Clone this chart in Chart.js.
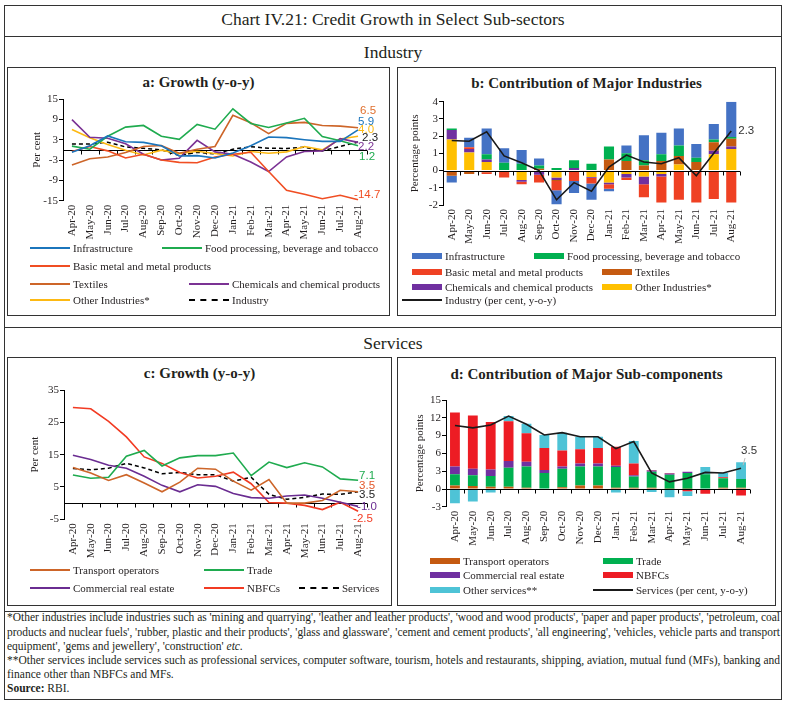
<!DOCTYPE html>
<html>
<head>
<meta charset="utf-8">
<script src="https://cdn.jsdelivr.net/npm/chart.js@4.4.0/dist/chart.umd.min.js"></script>
<style>
body { margin: 0; background: #fff; width: 786px; height: 702px; position: relative; overflow: hidden;
       font-family: "Liberation Serif", serif; color: #231f20; }
.line { position: absolute; background: #333; }
.box { position: absolute; border: 1px solid #333; box-sizing: border-box; }
.ptitle { position: absolute; text-align: center; font-weight: bold; font-size: 15px; white-space: nowrap; }
.head { position: absolute; left: 0; width: 786px; text-align: center; font-size: 17.5px; }
canvas { position: absolute; }
.lg { position: absolute; font-size: 11px; white-space: nowrap; display: flex; align-items: center; height: 14px; }
.lg span.sw { display: inline-block; margin-right: 3px; }
.fn { position: absolute; left: 7px; font-family: "Liberation Serif", serif;
      font-size: 11.5px; white-space: nowrap; line-height: 14px; transform-origin: 0 0; }
</style>
</head>
<body>

<div class="box" style="left:4px;top:5px;width:778px;height:695px;"></div>
<div class="line" style="left:4px;top:36px;width:778px;height:1px;"></div>
<div class="line" style="left:4px;top:327px;width:778px;height:1px;"></div>
<div class="line" style="left:4px;top:611px;width:778px;height:1px;"></div>

<div class="head" style="top:9px;">Chart IV.21: Credit Growth in Select Sub-sectors</div>
<div class="head" style="top:42px;">Industry</div>
<div class="head" style="top:333px;">Services</div>

<div class="box" style="left:7px;top:67px;width:383px;height:249px;"></div>
<div class="box" style="left:397px;top:67px;width:379px;height:249px;"></div>
<div class="box" style="left:7px;top:357px;width:385px;height:249px;"></div>
<div class="box" style="left:397px;top:357px;width:379px;height:249px;"></div>

<div class="ptitle" style="left:7px;width:383px;top:74px;">a: Growth (y-o-y)</div>
<div class="ptitle" style="left:397px;width:379px;top:75px;">b: Contribution of Major Industries</div>
<div class="ptitle" style="left:7px;width:385px;top:365px;">c: Growth (y-o-y)</div>
<div class="ptitle" style="left:397px;width:379px;top:366px;">d: Contribution of Major Sub-components</div>

<canvas id="chartA" width="384" height="160" style="left:8px;top:88px;"></canvas>
<canvas id="chartB" width="378" height="165" style="left:398px;top:88px;"></canvas>
<canvas id="chartC" width="384" height="190" style="left:8px;top:380px;"></canvas>
<canvas id="chartD" width="378" height="175" style="left:398px;top:385px;"></canvas>

<div class="fn" data-full="1" style="top:610px;">*Other industries include industries such as 'mining and quarrying', 'leather and leather products', 'wood and wood products', 'paper and paper products', 'petroleum, coal</div>
<div class="fn" data-full="1" style="top:625px;">products and nuclear fuels', 'rubber, plastic and their products', 'glass and glassware', 'cement and cement products', 'all engineering', 'vehicles, vehicle parts and transport</div>
<div class="fn" style="top:639px;">equipment', 'gems and jewellery', 'construction' <i>etc.</i></div>
<div class="fn" data-full="1" style="top:653px;">**Other services include services such as professional services, computer software, tourism, hotels and restaurants, shipping, aviation, mutual fund (MFs), banking and</div>
<div class="fn" style="top:667px;">finance other than NBFCs and MFs.</div>
<div class="fn" style="top:681px;"><b>Source:</b> RBI.</div>

<script>
var months = ['Apr-20', 'May-20', 'Jun-20', 'Jul-20', 'Aug-20', 'Sep-20', 'Oct-20', 'Nov-20', 'Dec-20',
              'Jan-21', 'Feb-21', 'Mar-21', 'Apr-21', 'May-21', 'Jun-21', 'Jul-21', 'Aug-21'];

// a: industry growth, y-o-y per cent
var infraGrowth    = [-0.7, 1.2, 4.1, 2.4, 2.2, 1.2, -1.8, -1.7, -2.4, -0.9, 1.2, 3.8, 3.6, 3.0, 2.5, 2.5, 5.9];
var foodGrowth     = [1.1, 0.2, 4.0, 6.7, 7.2, 4.0, 3.1, 7.5, 6.1, 12.1, 7.8, 6.6, 7.9, 9.3, 3.9, 2.7, 1.2];
var metalGrowth    = [-0.5, 1.0, -0.3, -2.4, -1.3, -3.0, -3.7, -3.8, -2.1, -1.3, -0.7, -6.4, -11.9, -13.1, -14.4, -13.4, -14.7];
var textileGrowth  = [-4.5, -2.6, -2.1, -0.8, 1.0, 1.3, -1.0, 0.2, 1.0, 10.2, 8.0, 4.8, 7.8, 8.1, 7.2, 7.0, 6.5];
var chemGrowth     = [8.9, 3.7, 3.4, 1.8, -1.3, -3.0, -2.5, 2.8, -0.6, -1.3, -3.6, -6.4, -2.1, -0.5, -0.3, 3.3, 2.2];
var otherIndGrowth = [6.0, 3.6, 1.6, -0.1, -1.5, -0.1, -1.1, -0.4, -1.1, -1.8, -0.5, -1.0, -0.6, 1.0, 0.0, 3.2, 4.0];
var industryGrowth = [1.75, 1.7, 2.25, 0.85, 0.45, 0.0, -1.7, -0.7, -1.2, 0.2, 0.9, 0.5, 0.4, 0.75, -0.3, 1.0, 2.3];

// b: contribution of major industries, percentage points
var infraContrib    = [-0.4, 0.55, 1.5, 0.85, 0.8, 0.4, -0.8, -0.7, -0.95, -0.15, 0.45, 1.45, 1.25, 1.0, 0.8, 0.9, 2.05];
var foodContrib     = [0.1, 0.0, 0.3, 0.45, 0.4, 0.2, 0.15, 0.45, 0.4, 0.75, 0.45, 0.3, 0.4, 0.6, 0.25, 0.15, 0.1];
var metalContrib    = [0.0, 0.1, -0.1, -0.35, -0.15, -0.45, -0.55, -0.6, -0.33, -0.25, -0.15, -0.75, -1.5, -1.65, -1.8, -1.65, -1.85];
var textileContrib  = [-0.3, -0.2, -0.1, -0.05, 0.0, 0.1, -0.05, 0.0, 0.0, 0.65, 0.55, 0.3, 0.55, 0.5, 0.5, 0.5, 0.45];
var chemContrib     = [0.55, 0.2, 0.15, 0.0, -0.1, -0.25, -0.15, 0.15, -0.05, -0.1, -0.2, -0.45, -0.15, -0.05, 0.0, 0.2, 0.15];
var otherIndContrib = [1.8, 1.05, 0.5, 0.0, -0.55, 0.0, -0.4, 0.0, -0.37, -0.7, -0.2, -0.35, -0.2, 0.35, -0.05, 0.95, 1.25];

// c: services growth, y-o-y per cent
var transportGrowth = [11.0, 9.3, 7.0, 8.8, 6.2, 3.5, 6.5, 10.8, 10.5, 6.8, 4.0, 7.3, 0.0, 0.0, 0.8, 4.0, 3.5];
var tradeGrowth     = [8.7, 7.7, 8.0, 14.5, 16.3, 11.5, 14.0, 14.7, 14.7, 15.5, 8.5, 12.7, 11.0, 12.5, 11.2, 7.5, 7.1];
var creGrowth       = [14.8, 13.5, 11.7, 10.8, 8.3, 5.5, 3.5, 5.7, 5.2, 3.0, 1.7, 1.5, 2.2, 2.5, 1.5, 0.3, -1.0];
var nbfcGrowth      = [29.6, 29.2, 25.3, 20.5, 14.3, 12.3, 9.5, 7.8, 8.3, 9.6, 6.0, 0.2, 0.0, -0.7, -2.0, 0.3, -2.5];
var servicesGrowth  = [10.7, 10.3, 10.8, 12.3, 10.9, 9.1, 9.5, 8.8, 8.8, 6.8, 8.0, 2.7, 1.2, 1.8, 2.8, 2.7, 3.5];

// d: contribution of major sub-components, percentage points
var transportContrib = [0.6, 0.5, 0.4, 0.4, 0.2, 0.1, 0.3, 0.6, 0.6, 0.2, 0.2, 0.2, 0.05, 0.05, 0.1, 0.2, 0.2];
var tradeContrib     = [1.9, 1.8, 1.8, 3.2, 3.6, 2.6, 3.1, 3.2, 3.2, 3.5, 1.9, 2.7, 2.35, 2.65, 2.4, 1.6, 1.5];
var creContrib       = [1.3, 1.1, 1.1, 1.1, 0.8, 0.5, 0.4, 0.5, 0.5, 0.2, 0.2, 0.2, 0.2, 0.2, 0.0, 0.0, 0.0];
var nbfcContrib      = [9.1, 9.0, 8.0, 6.7, 4.8, 3.7, 2.7, 2.4, 2.6, 3.2, 2.0, 0.1, 0.1, -0.4, -0.8, 0.2, -1.1];
var otherSvcContrib  = [-2.4, -2.1, -0.6, 0.9, 1.6, 2.2, 3.0, 2.1, 1.9, -0.6, 3.8, -0.5, -1.4, -0.8, 1.2, 0.7, 2.8];

var txt = '#231f20';
var serif = '"Liberation Serif", serif';

// horizontal axis through zero, with Excel style tick marks between categories
var zeroAxis = {
    id: 'zeroAxis',
    draw: function(chart) {
        var x = chart.scales.x, y = chart.scales.y, ctx = chart.ctx;
        var y0 = Math.round(y.getPixelForValue(0)) + 0.5;
        var half = (x.getPixelForValue(1) - x.getPixelForValue(0)) / 2;
        ctx.save();
        ctx.strokeStyle = '#000';
        ctx.lineWidth = 1;
        ctx.beginPath();
        ctx.moveTo(chart.chartArea.left, y0);
        ctx.lineTo(chart.chartArea.right, y0);
        for (var i = 0; i <= months.length; i++) {
            var px = Math.round(x.getPixelForValue(i) - half) + 0.5;
            ctx.moveTo(px, y0);
            ctx.lineTo(px, y0 + 4);
        }
        ctx.stroke();
        ctx.restore();
    },
    beforeDatasetsDraw: function(chart, args, opts) { if (!opts.top) this.draw(chart); },
    afterDatasetsDraw: function(chart, args, opts) { if (opts.top) this.draw(chart); }
};

// last value labels
var endLabels = {
    id: 'endLabels',
    afterDraw: function(chart, args, opts) {
        var x = chart.scales.x, y = chart.scales.y, ctx = chart.ctx;
        var last = months.length - 1;
        ctx.save();
        ctx.font = '11.5px "Liberation Sans", sans-serif';
        ctx.textBaseline = 'middle';
        ctx.textAlign = 'left';
        (opts.items || []).forEach(function(it) {
            var v = it.series[last];
            var px = x.getPixelForValue(last) + it.dx;
            var py = y.getPixelForValue(it.at);
            if (it.leader) {
                ctx.strokeStyle = '#bbb';
                ctx.beginPath();
                ctx.moveTo(x.getPixelForValue(last) + 2, y.getPixelForValue(v) - 3);
                ctx.lineTo(px + 4, py + 7);
                ctx.stroke();
            }
            ctx.fillStyle = it.color;
            ctx.fillText(v.toFixed(1), px, py);
        });
        ctx.restore();
    }
};

function makeChart(id, type, datasets, cfg) {
    return new Chart(document.getElementById(id), {
        type: type,
        data: { labels: months, datasets: datasets },
        options: {
            responsive: false,
            animation: false,
            layout: { padding: cfg.pad },
            plugins: {
                legend: { display: false },
                tooltip: { enabled: false },
                zeroAxis: { top: type === 'bar' },
                endLabels: { items: cfg.labels }
            },
            datasets: { bar: { barPercentage: cfg.barPct || 0.6, categoryPercentage: 1.0 } },
            scales: {
                x: {
                    offset: true,
                    stacked: type === 'bar',
                    grid: { display: false, drawTicks: false },
                    border: { display: false },
                    ticks: { autoSkip: false, maxRotation: 90, minRotation: 90, color: txt,
                             font: { family: serif, size: 11 }, padding: 4 },
                    afterFit: function(s) { s.height = cfg.xh; }
                },
                y: {
                    min: cfg.min, max: cfg.max,
                    stacked: type === 'bar',
                    ticks: { stepSize: cfg.step, color: txt, font: { family: serif, size: 11 }, padding: 1 },
                    grid: { drawOnChartArea: false, tickLength: 4, tickColor: '#000' },
                    border: { color: '#000' },
                    title: { display: true, text: cfg.ytitle, color: txt, font: { family: serif, size: 11 } },
                    afterFit: function(s) { s.width = cfg.yw; }
                }
            }
        },
        plugins: [zeroAxis, endLabels]
    });
}

function lineSet(label, data, color, dashed) {
    return { type: 'line', label: label, data: data, borderColor: color, backgroundColor: color,
             borderWidth: dashed ? 1.5 : 1.6, borderDash: dashed ? [4, 3] : [], pointRadius: 0,
             tension: 0, order: 0, stack: 'lines' };
}
function barSet(label, data, color) {
    return { type: 'bar', label: label, data: data, backgroundColor: color, borderWidth: 0, order: 1 };
}

// ---- panel a
var colA = { infra: '#1b75bc', food: '#1fab4f', metal: '#f04e23', textile: '#cd6529', chem: '#7b3294', other: '#fdb913' };
makeChart('chartA', 'line', [
    lineSet('Infrastructure', infraGrowth, colA.infra),
    lineSet('Food processing, beverage and tobacco', foodGrowth, colA.food),
    lineSet('Basic metal and metal products', metalGrowth, colA.metal),
    lineSet('Textiles', textileGrowth, colA.textile),
    lineSet('Chemicals and chemical products', chemGrowth, colA.chem),
    lineSet('Other Industries*', otherIndGrowth, colA.other),
    lineSet('Industry', industryGrowth, '#000', true)
], {
    pad: { left: 19, right: 25, top: 11, bottom: 0 }, yw: 36, xh: 47.3,
    min: -15, max: 15, step: 3, ytitle: 'Per cent',
    labels: [
        { series: textileGrowth, at: 11.4, dx: 2, color: '#e0702f' },
        { series: infraGrowth, at: 8.2, dx: 0, color: colA.infra },
        { series: otherIndGrowth, at: 5.9, dx: 0, color: colA.other },
        { series: industryGrowth, at: 3.5, dx: 4, color: '#222' },
        { series: chemGrowth, at: 0.9, dx: 0, color: colA.chem },
        { series: foodGrowth, at: -2.2, dx: 1, color: colA.food },
        { series: metalGrowth, at: -13.4, dx: -4, color: colA.metal }
    ]
});

// ---- panel b
var colB = { infra: '#4472c4', food: '#00b050', metal: '#ef4123', textile: '#c55a11', chem: '#7030a0', other: '#ffc000' };
makeChart('chartB', 'bar', [
    barSet('Other Industries*', otherIndContrib, colB.other),
    barSet('Chemicals and chemical products', chemContrib, colB.chem),
    barSet('Textiles', textileContrib, colB.textile),
    barSet('Basic metal and metal products', metalContrib, colB.metal),
    barSet('Food processing, beverage and  tobacco', foodContrib, colB.food),
    barSet('Infrastructure', infraContrib, colB.infra),
    lineSet('Industry (per cent, y-o-y)', industryGrowth, '#1a1a1a')
], {
    pad: { left: 7, right: 36, top: 13.7, bottom: 0 }, yw: 38, xh: 48,
    min: -2, max: 4, step: 1, ytitle: 'Percentage points', barPct: 0.58,
    labels: [ { series: industryGrowth, at: 2.3, dx: 7, color: '#333' } ]
});

// ---- panel c
var colC = { transport: '#cd6529', trade: '#1fab4f', cre: '#6a2c91', nbfc: '#f23b23' };
makeChart('chartC', 'line', [
    lineSet('Transport operators', transportGrowth, colC.transport),
    lineSet('Trade', tradeGrowth, colC.trade),
    lineSet('Commercial real estate', creGrowth, colC.cre),
    lineSet('NBFCs', nbfcGrowth, colC.nbfc),
    lineSet('Services', servicesGrowth, '#000', true)
], {
    pad: { left: 16.4, right: 25, top: 10, bottom: 0 }, yw: 39.6, xh: 50.7,
    min: -5, max: 35, step: 10, ytitle: 'Per cent',
    labels: [
        { series: tradeGrowth, at: 8.4, dx: 1, color: colC.trade },
        { series: transportGrowth, at: 5.5, dx: 1, color: '#e4572a' },
        { series: servicesGrowth, at: 2.5, dx: 1, color: '#222' },
        { series: creGrowth, at: -1.1, dx: -1, color: colC.cre },
        { series: nbfcGrowth, at: -5.0, dx: -5, color: colC.nbfc }
    ]
});

// ---- panel d
var colD = { transport: '#c55a11', trade: '#00b050', cre: '#7030a0', nbfc: '#ed1c24', other: '#4ec3d6' };
makeChart('chartD', 'bar', [
    barSet('Transport operators', transportContrib, colD.transport),
    barSet('Trade', tradeContrib, colD.trade),
    barSet('Commercial real estate', creContrib, colD.cre),
    barSet('NBFCs', nbfcContrib, colD.nbfc),
    barSet('Other services**', otherSvcContrib, colD.other),
    lineSet('Services (per cent, y-o-y)', servicesGrowth, '#1a1a1a')
], {
    pad: { left: 11.4, right: 26, top: 15, bottom: 0 }, yw: 36.6, xh: 53.2,
    min: -3, max: 15, step: 3, ytitle: 'Percentage points', barPct: 0.55,
    labels: [ { series: servicesGrowth, at: 6.4, dx: 0, color: '#333', leader: true } ]
});

// ---- HTML legends
function legend(items) {
    items.forEach(function(it) {
        var el = document.createElement('div');
        el.className = 'lg';
        el.style.left = it[0] + 'px';
        el.style.top = (it[1] - 7) + 'px';
        var sw = document.createElement('span');
        sw.className = 'sw';
        if (it[2] === 'box') {
            sw.style.width = '30px'; sw.style.height = '6px'; sw.style.background = it[3];
        } else {
            sw.style.width = '40px'; sw.style.height = '0';
            sw.style.borderTop = '2px ' + (it[2] === 'dash' ? 'dashed ' : 'solid ') + it[3];
        }
        el.appendChild(sw);
        el.appendChild(document.createTextNode(it[4]));
        document.body.appendChild(el);
    });
}
legend([
    [30, 248, 'line', colA.infra, 'Infrastructure'],
    [162, 248, 'line', colA.food, 'Food processing, beverage and tobacco'],
    [30, 266, 'line', colA.metal, 'Basic metal and metal products'],
    [30, 284, 'line', colA.textile, 'Textiles'],
    [189, 284, 'line', colA.chem, 'Chemicals and chemical products'],
    [30, 300, 'line', colA.other, 'Other Industries*'],
    [189, 300, 'dash', '#000', 'Industry']
]);
legend([
    [412, 256, 'box', colB.infra, 'Infrastructure'],
    [534, 256, 'box', colB.food, 'Food processing, beverage and  tobacco'],
    [412, 272, 'box', colB.metal, 'Basic metal and metal products'],
    [602, 272, 'box', colB.textile, 'Textiles'],
    [412, 287, 'box', colB.chem, 'Chemicals and chemical products'],
    [602, 287, 'box', colB.other, 'Other Industries*'],
    [402, 300, 'line', '#1a1a1a', 'Industry (per cent, y-o-y)']
]);
legend([
    [30, 570, 'line', colC.transport, 'Transport operators'],
    [204, 570, 'line', colC.trade, 'Trade'],
    [30, 588, 'line', colC.cre, 'Commercial real estate'],
    [204, 588, 'line', colC.nbfc, 'NBFCs'],
    [299, 588, 'dash', '#000', 'Services']
]);
legend([
    [430, 561, 'box', colD.transport, 'Transport operators'],
    [603, 561, 'box', colD.trade, 'Trade'],
    [430, 575, 'box', colD.cre, 'Commercial real estate'],
    [603, 575, 'box', colD.nbfc, 'NBFCs'],
    [430, 590, 'box', colD.other, 'Other services**'],
    [593, 590, 'line', '#1a1a1a', 'Services (per cent, y-o-y)']
]);

// fit the footnote lines to the box width: full lines are stretched by word spacing
var fnWidth = 773;
document.querySelectorAll('.fn').forEach(function(el) {
    var w = el.getBoundingClientRect().width;
    if (w > fnWidth) {
        el.style.transform = 'scaleX(' + (fnWidth / w) + ')';
    } else if (el.dataset.full) {
        var gaps = el.textContent.split(' ').length - 1;
        el.style.wordSpacing = ((fnWidth - w) / gaps) + 'px';
    }
});
</script>
</body>
</html>
